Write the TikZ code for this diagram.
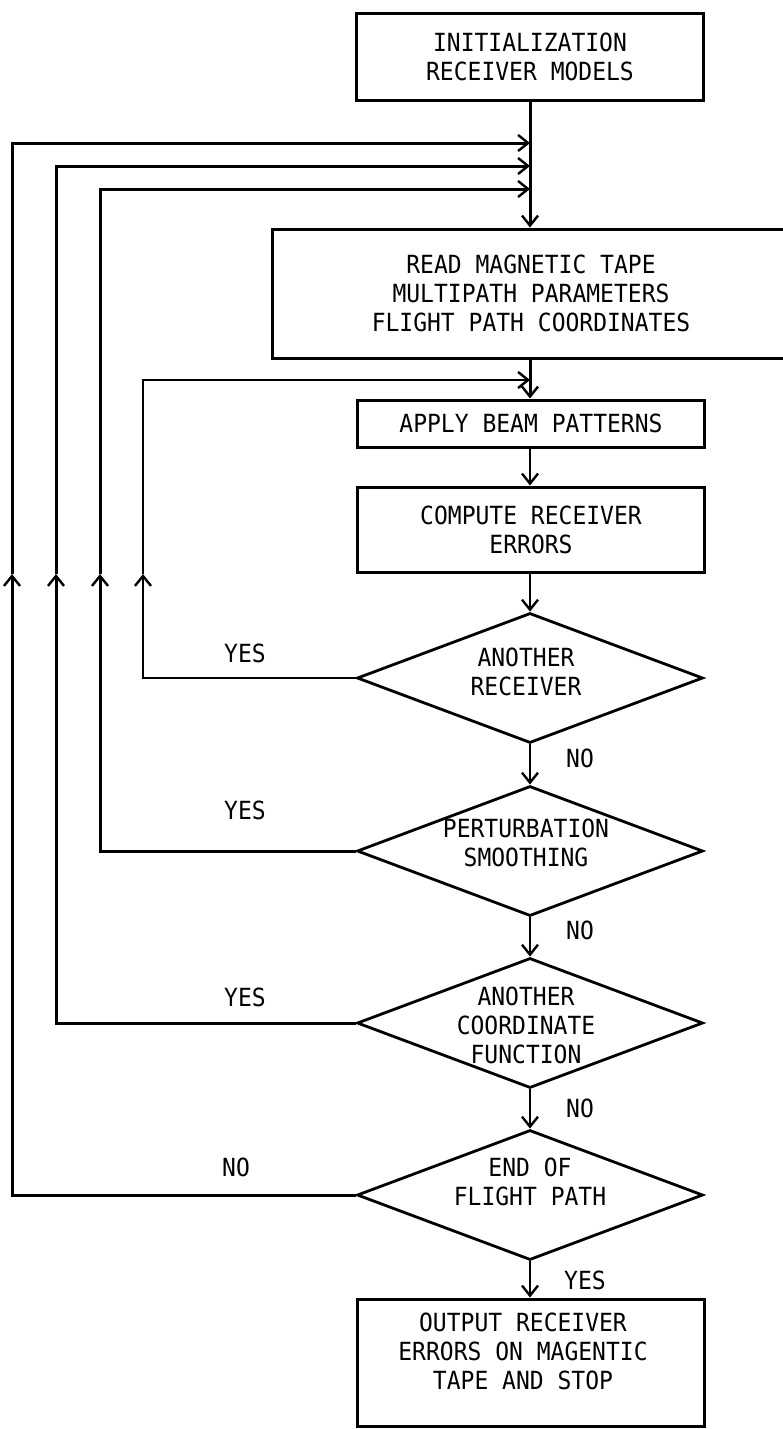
\documentclass[tikz,border=0pt]{standalone}
\usepackage{fontspec}
\newfontfamily\plotter[FakeStretch=0.92]{DejaVu Sans Mono}
\usetikzlibrary{shapes.geometric,arrows.meta}
\begin{document}
\begin{tikzpicture}[x=1pt,y=-1pt,
  every node/.style={font=\plotter\fontsize{25}{29}\selectfont},
  box/.style={draw, line width=3pt, minimum width=347pt, inner sep=0pt, align=center},
  dia/.style={draw, diamond, line width=2.8pt, minimum width=346pt, minimum height=130pt, inner sep=0pt},
  txt/.style={align=center, inner sep=0pt},
  link/.style={line width=3pt},
  thin link/.style={line width=2.2pt},
  tip/.style={-{Straight Barb[length=10pt,width=16pt,line width=2.4pt]}}
]
\useasboundingbox (0,0) rectangle (783,1429);

% process boxes
\node[box, minimum height=86pt]  (init)    at (530,57)    {INITIALIZATION\\RECEIVER MODELS};
\node[box, minimum height=129pt, minimum width=518pt] (read) at (531,293.5)
      {READ MAGNETIC TAPE\\MULTIPATH PARAMETERS\\FLIGHT PATH COORDINATES};
\node[box, minimum height=47pt]  (apply)   at (531,423.5) {APPLY BEAM PATTERNS};
\node[box, minimum height=85pt]  (compute) at (531,529.5) {COMPUTE RECEIVER\\ERRORS};

% decisions
\node[dia] (d1) at (530,678)  {};
\node[txt] (d1t) at (526,672)  {ANOTHER\\RECEIVER};
\node[dia] (d2) at (530,851)  {};
\node[txt] (d2t) at (526,843)  {PERTURBATION\\SMOOTHING};
\node[dia] (d3) at (530,1023) {};
\node[txt] (d3t) at (526,1025) {ANOTHER\\COORDINATE\\FUNCTION};
\node[dia] (d4) at (530,1195) {};
\node[txt] (d4t) at (530,1182) {END OF\\FLIGHT PATH};

% final box
\node[box, minimum height=127pt] (out) at (531,1362.5) {};
\node[txt] (outt) at (523,1351) {OUTPUT RECEIVER\\ERRORS ON MAGENTIC\\TAPE AND STOP};

% branch labels
\node (y1) at (245,653)  {YES};
\node (y2) at (245,810)  {YES};
\node (y3) at (245,997)  {YES};
\node (n4) at (236,1167) {NO};
\node (n1) at (580,758)  {NO};
\node (n2) at (580,930)  {NO};
\node (n3) at (580,1108) {NO};
\node (y4) at (585,1280) {YES};

% return corners and joints
\coordinate (t1) at (12,143);
\coordinate (t2) at (56,166);
\coordinate (t3) at (100,189);
\coordinate (t4) at (143,380);
\coordinate (mid) at (0,574);

% main flow
\draw[link,tip] (init.south) -- (init.south |- read.north);
\draw[link,tip] (init.south |- read.south) -- (init.south |- apply.north);
\draw[thin link,tip] (init.south |- apply.south) -- (init.south |- compute.north);
\draw[thin link,tip] (init.south |- compute.south) -- (d1.north);
\draw[thin link,tip] (d1.south) -- (d2.north);
\draw[thin link,tip] (d2.south) -- (d3.north);
\draw[thin link,tip] (d3.south) -- (d4.north);
\draw[thin link,tip] (d4.south) -- (out.north -| d4.south);

% return loops
\draw[link,tip] (d4.west) -- (d4.west -| t1) -- (t1 |- mid);
\draw[link,tip] (t1 |- mid) -- (t1) -- (t1 -| init.south);
\draw[link,tip] (d3.west) -- (d3.west -| t2) -- (t2 |- mid);
\draw[link,tip] (t2 |- mid) -- (t2) -- (t2 -| init.south);
\draw[link,tip] (d2.west) -- (d2.west -| t3) -- (t3 |- mid);
\draw[link,tip] (t3 |- mid) -- (t3) -- (t3 -| init.south);
\draw[thin link,tip] (d1.west) -- (d1.west -| t4) -- (t4 |- mid);
\draw[thin link,tip] (t4 |- mid) -- (t4) -- (t4 -| init.south);
\end{tikzpicture}
\end{document}
